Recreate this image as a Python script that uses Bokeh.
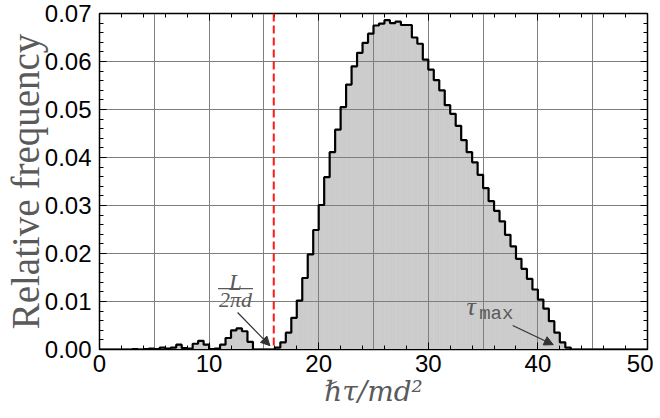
import numpy as np
from bokeh.plotting import figure
from bokeh.models import (FixedTicker, LinearAxis, Span, Label, Arrow, NormalHead,
                          Range1d, NumeralTickFormatter)
from bokeh.embed import file_html
from bokeh.resources import INLINE

# ---------------- data ----------------
bin_width = 0.5
bin_lefts = [round(v, 2) for v in np.arange(0.0, 50.0, bin_width)]
rel_freq = [
    0, 0, 0, 0, 0, 0, 0.0001, 0, 0.0001, 0.0002,            # 0 - 4.5
    0.0001, 0.0004, 0.0002, 0.0004, 0.0010, 0.0003, 0.0002, 0.0012, 0.0018, 0.0010,  # 5 - 9.5
    0.0001, 0.0002, 0.0010, 0.0024, 0.0040, 0.0044, 0.0038, 0.0016, 0, 0,          # 10 - 14.5
    0, 0, 0.0004, 0.0015, 0.0035, 0.0066, 0.0102, 0.0149, 0.0198, 0.0249,          # 15 - 19.5
    0.0301, 0.0359, 0.0411, 0.0458, 0.0505, 0.0552, 0.0590, 0.0618, 0.0639, 0.0658,  # 20 - 24.5
    0.0675, 0.0679, 0.0686, 0.0680, 0.0683, 0.0676, 0.0676, 0.0650, 0.0637, 0.0604,  # 25 - 29.5
    0.0583, 0.0561, 0.0540, 0.0509, 0.0491, 0.0466, 0.0436, 0.0411, 0.0390, 0.0364,  # 30 - 34.5
    0.0336, 0.0309, 0.0289, 0.0267, 0.0239, 0.0215, 0.0189, 0.0168, 0.0147, 0.0125,  # 35 - 39.5
    0.0104, 0.0085, 0.0059, 0.0035, 0.0015, 0.0004, 0, 0, 0, 0,                    # 40 - 44.5
    0, 0, 0, 0, 0, 0, 0, 0, 0, 0,                                                  # 45 - 49.5
]
threshold_x = 15.9          # L / (2 pi d)
x_major = [0, 10, 20, 30, 40, 50]
x_minor = [v for v in range(0, 51, 2) if v % 10 != 0]
x_grid = [5, 10, 15, 20, 25, 30, 35, 40, 45]
y_major = [0.00, 0.01, 0.02, 0.03, 0.04, 0.05, 0.06, 0.07]
y_minor = [round(v * 0.002, 3) for v in range(0, 36) if v % 5 != 0]

x_title = "ℏτ/md²"
y_title = "Relative frequency"

# annotation anchors (data units)
frac_x, frac_top_y, frac_bar_y, frac_bot_y = 12.41, 0.0140, 0.0127, 0.0104
arrow1 = (12.6, 0.0077, 15.55, 0.0008)
tau_x, tau_y, max_x, max_y = 33.9, 0.0089, 36.2, 0.0074
arrow2 = (37.7, 0.0050, 41.4, 0.0010)

# ---------------- figure ----------------
p = figure(x_range=Range1d(0, 50), y_range=Range1d(0, 0.07),
           output_backend="svg", toolbar_location=None,
           frame_width=548, frame_height=336,
           min_border_left=99, min_border_right=6, min_border_top=13, min_border_bottom=50)
p.background_fill_color = "white"
p.outline_line_color = "black"
p.outline_line_width = 1.5

# histogram fill (under grid) and outline (over grid)
edges_right = [l + bin_width for l in bin_lefts]
p.quad(left=bin_lefts, right=edges_right, bottom=0, top=rel_freq,
       fill_color="#cccccc", line_color="#cccccc", line_width=0.6, level="image")
step_x = bin_lefts + [50.0]
step_y = rel_freq + [rel_freq[-1]]
p.step(x=step_x, y=step_y, mode="after", line_color="black", line_width=2.2)

p.add_layout(Span(location=threshold_x, dimension="height", line_color="#ff1a1a",
                  line_dash="8 4", line_width=2))

# axes
title_col = "#5a5a5a"
for ax in (p.xaxis[0], p.yaxis[0]):
    ax.major_tick_in = 7
    ax.major_tick_out = 0
    ax.minor_tick_in = 4
    ax.minor_tick_out = 0
    ax.axis_line_color = "black"
    ax.major_label_text_font = "Liberation Sans"
    ax.major_label_text_font_size = "24px"
    ax.major_label_text_color = "black"
    ax.axis_label_text_color = title_col
    ax.axis_label_text_font_style = "normal"

p.xaxis.ticker = FixedTicker(ticks=x_major, minor_ticks=x_minor)
p.yaxis.ticker = FixedTicker(ticks=y_major, minor_ticks=y_minor)
p.yaxis.formatter = NumeralTickFormatter(format="0.00")
p.xaxis.major_label_standoff = 5
p.yaxis.major_label_standoff = 8

p.xaxis.axis_label = x_title
p.xaxis.axis_label_text_font = "DejaVu Serif"
p.xaxis.axis_label_text_font_style = "italic"
p.xaxis.axis_label_text_font_size = "28px"
p.xaxis.axis_label_standoff = 0

p.yaxis.axis_label = y_title
p.yaxis.axis_label_text_font = "Liberation Serif"
p.yaxis.axis_label_text_font_size = "39px"
p.yaxis.axis_label_standoff = -5

top_ax = LinearAxis(ticker=FixedTicker(ticks=x_major, minor_ticks=x_minor),
                    major_label_text_font_size="1px", major_label_text_color=None,
                    major_tick_in=7, major_tick_out=0,
                    minor_tick_in=4, minor_tick_out=0, major_label_standoff=0)
right_ax = LinearAxis(ticker=FixedTicker(ticks=y_major, minor_ticks=y_minor),
                      major_label_text_font_size="1px", major_label_text_color=None,
                      major_tick_in=7, major_tick_out=0,
                      minor_tick_in=4, minor_tick_out=0, major_label_standoff=0)
p.add_layout(top_ax, "above")
p.add_layout(right_ax, "right")

# grid
p.xgrid.ticker = FixedTicker(ticks=x_grid)
p.ygrid.ticker = FixedTicker(ticks=y_major)
for g in (p.xgrid[0], p.ygrid[0]):
    g.grid_line_color = "#7f7f7f"
    g.grid_line_width = 1
    g.grid_line_alpha = 1.0

# annotations
ann_col = "#5a5a5a"
p.add_layout(Label(x=frac_x, y=frac_top_y, text="L", text_align="center", text_baseline="middle",
                   text_font="Liberation Serif", text_font_style="italic",
                   text_font_size="23px", text_color=ann_col))
p.line(x=[frac_x - 1.6, frac_x + 1.6], y=[frac_bar_y, frac_bar_y], line_color=ann_col, line_width=1.2)
p.add_layout(Label(x=frac_x, y=frac_bot_y, text="2πd", text_align="center", text_baseline="middle",
                   text_font="Liberation Serif", text_font_style="italic",
                   text_font_size="22px", text_color=ann_col))
p.add_layout(Arrow(x_start=arrow1[0], y_start=arrow1[1], x_end=arrow1[2], y_end=arrow1[3],
                   line_color="#333333", line_width=1.2,
                   end=NormalHead(size=9, fill_color="#333333", line_color="#333333")))

p.add_layout(Label(x=tau_x, y=tau_y, text="τ", text_align="center", text_baseline="middle",
                   text_font="Liberation Serif", text_font_style="italic",
                   text_font_size="26px", text_color=ann_col))
p.add_layout(Label(x=max_x, y=max_y, text="max", text_align="center", text_baseline="middle",
                   text_font="Liberation Mono", text_font_size="19px", text_color=ann_col))
p.add_layout(Arrow(x_start=arrow2[0], y_start=arrow2[1], x_end=arrow2[2], y_end=arrow2[3],
                   line_color="#333333", line_width=1.2,
                   end=NormalHead(size=9, fill_color="#333333", line_color="#333333")))

open("out.html", "w").write(file_html(p, INLINE))
